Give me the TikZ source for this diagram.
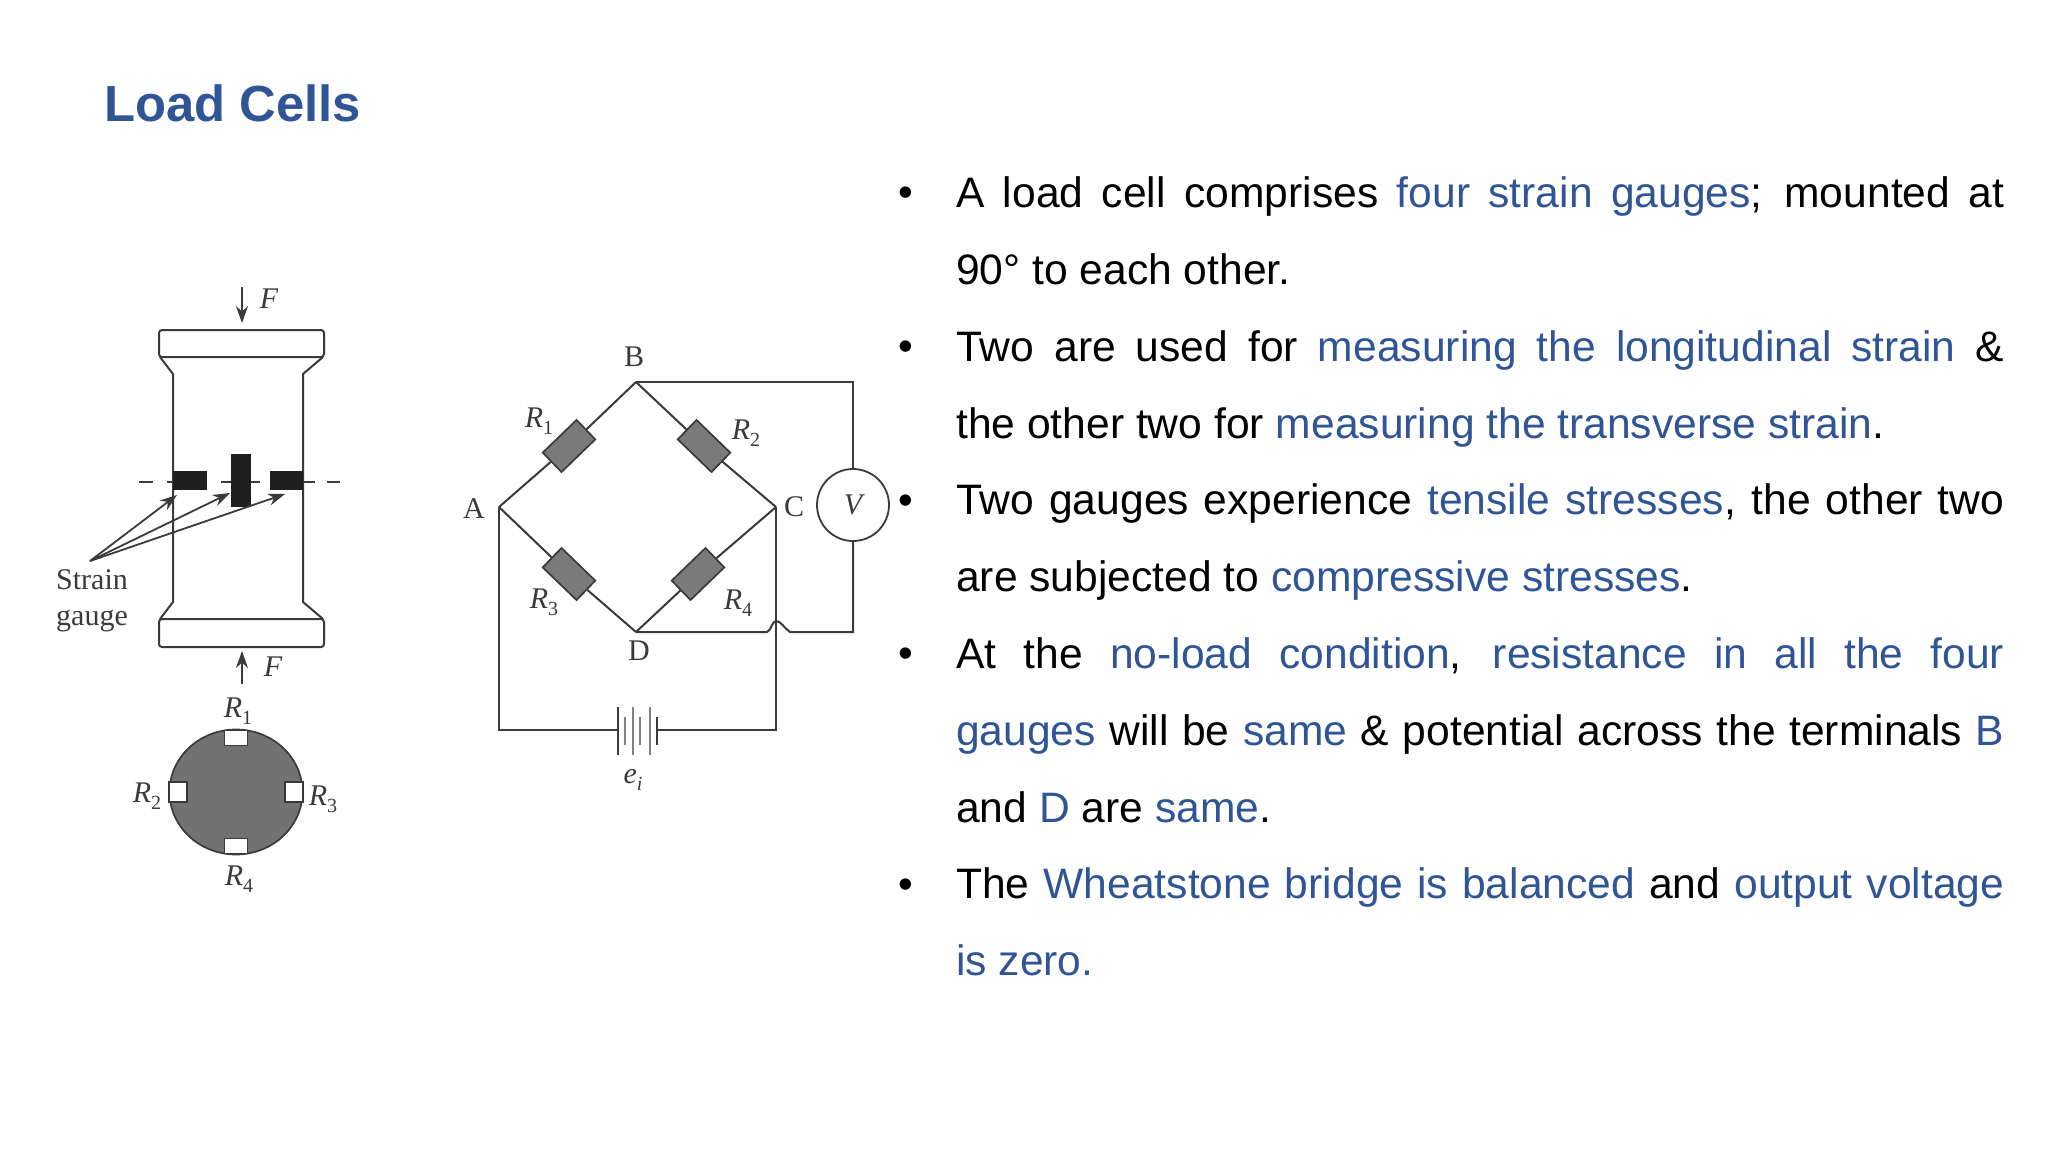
\documentclass[tikz,border=0pt]{standalone}
\usepackage{fontspec}
\setmainfont{Liberation Sans}
\newfontfamily\serf{Liberation Serif}
\usetikzlibrary{arrows.meta,shapes.geometric}
\definecolor{slideblue}{HTML}{2F5597}
\definecolor{ink}{HTML}{3A3A3A}
\definecolor{resgray}{HTML}{7A7A7A}
\definecolor{discgray}{HTML}{727272}
\newcommand{\Rs}[1]{{\serf\itshape R}\raisebox{-7pt}{\fontsize{20pt}{20pt}\selectfont\serf #1}}
\newcommand{\bl}[1]{\textcolor{slideblue}{#1}}
\newcommand{\jline}[1]{\makebox[1048pt][s]{#1}}
\tikzset{
  wire/.style={draw=ink,line width=2pt},
  thin wire/.style={draw=ink,line width=1.8pt},
  body/.style={draw=ink,line width=2pt},
  resistor/.style={draw=ink,line width=1.7pt,fill=resgray,minimum width=47pt,minimum height=27pt,inner sep=0pt},
  gaugeblock/.style={fill=black!88,draw=none,inner sep=0pt},
  sq/.style={draw=ink,line width=1.7pt,fill=white,inner sep=0pt},
  lab/.style={text=ink,inner sep=0pt,font=\fontsize{30pt}{32pt}\selectfont\serf},
  slide/.style={anchor=base west,inner sep=0pt,font=\fontsize{42.6pt}{50pt}\selectfont},
  bulletmark/.style={anchor=base,inner sep=0pt,font=\fontsize{42pt}{50pt}\selectfont},
  tip/.style={-{Stealth[length=17pt,width=12pt]},draw=ink,line width=1.8pt}
}
\begin{document}
\begin{tikzpicture}[x=1pt,y=-1pt]
\useasboundingbox[fill=white] (0,0) rectangle (2048,1152);

% Title
\node[anchor=base west,inner sep=0pt,text=slideblue,font=\fontsize{50.8pt}{56pt}\selectfont\bfseries] (title) at (104,121) {Load Cells};

% Column
\draw[body,rounded corners=3pt] (159,330) rectangle (324,357);
\draw[body,rounded corners=3pt] (159,619) rectangle (324,647);
\draw[body] (160,357) -- (173,374) -- (173,602) -- (160,619);
\draw[body] (323,357) -- (303,374) -- (303,602) -- (323,619);

% Centre line
\draw[thin wire] (139,482) -- (153,482) (167,482) -- (173,482) (221,482) -- (231,482) (251,482) -- (260,482) (303,482) -- (315,482) (327,482) -- (340,482);

% Gauges
\node[gaugeblock,minimum width=34pt,minimum height=19pt] (g1) at (190,480.5) {};
\node[gaugeblock,minimum width=20pt,minimum height=53pt] (g2) at (241,480.5) {};
\node[gaugeblock,minimum width=33pt,minimum height=19pt] (g3) at (286.5,480.5) {};

% Strain gauge label and arrows
\coordinate (sg) at (90,561);
\coordinate (t1) at (177,495);
\coordinate (t2) at (230,493);
\coordinate (t3) at (285,494);
\draw[tip] (sg) -- (t1);
\draw[tip] (sg) -- (t2);
\draw[tip] (sg) -- (t3);
\node[lab] (strain) at (92,580) {Strain};
\node[lab] (gauge) at (92,621) {gauge};

% Force arrows
\coordinate (f1s) at (242,287);
\coordinate (f1e) at (242,323);
\coordinate (f2s) at (242,684);
\coordinate (f2e) at (242,651);
\draw[tip] (f1s) -- (f1e);
\draw[tip] (f2s) -- (f2e);
\node[lab,font=\fontsize{30pt}{32pt}\selectfont\serf\itshape] (F1) at (269,299) {F};
\node[lab,font=\fontsize{30pt}{32pt}\selectfont\serf\itshape] (F2) at (273,667) {F};

% Cross-section
\node[ellipse,draw=ink,line width=1.7pt,fill=discgray,minimum width=133pt,minimum height=125pt,inner sep=0pt] (disc) at (236,792) {};
\node[sq,minimum width=23pt,minimum height=15pt] (s1) at (236,738) {};
\node[sq,minimum width=18pt,minimum height=20pt] (s2) at (178,792) {};
\node[sq,minimum width=18pt,minimum height=20pt] (s3) at (294,792) {};
\node[sq,minimum width=23pt,minimum height=15pt] (s4) at (236,846) {};
\node[lab] (lr1) at (238,711) {\Rs{1}};
\node[lab] (lr2) at (147,796) {\Rs{2}};
\node[lab] (lr3) at (323,799) {\Rs{3}};
\node[lab] (lr4) at (239,879) {\Rs{4}};

% Bridge junctions
\coordinate (A) at (499,507);
\coordinate (B) at (636,382);
\coordinate (C) at (776,507);
\coordinate (D) at (636,632);

\node[resistor,rotate=44] (r1) at (569,446) {};
\node[resistor,rotate=-44] (r2) at (704,446) {};
\node[resistor,rotate=-44] (r3) at (569,574) {};
\node[resistor,rotate=44] (r4) at (698,574) {};
\draw[wire] (A) -- (r1) (r1) -- (B) (B) -- (r2) (r2) -- (C);
\draw[wire] (A) -- (r3) (r3) -- (D) (D) -- (r4) (r4) -- (C);

\node[circle,draw=ink,line width=1.8pt,fill=white,minimum size=72pt,inner sep=0pt,text=ink,font=\fontsize{30pt}{32pt}\selectfont\serf\itshape] (V) at (853,505) {V};
\draw[wire] (B) -| (V);
\coordinate (hs) at (767,632);
\coordinate (ht) at (776,621);
\coordinate (he) at (790,632);
\draw[wire] (D) -- (hs) .. controls (771,631) and (772,621) .. (ht) .. controls (781,621) and (784,628) .. (he) -| (V);

\coordinate (batL) at (618,730);
\coordinate (batR) at (657,730);
\draw[wire] (A) |- (batL);
\draw[wire] (C) |- (batR);
% Battery
\draw[wire] (618,707) -- (618,755);
\draw[draw=gray,line width=2pt] (625,717) -- (625,745) (633,707) -- (633,755) (640,717) -- (640,745) (650,707) -- (650,755);
\draw[wire] (657,717) -- (657,745);

\node[lab] (nA) at (474,509) {A};
\node[lab] (nB) at (634,357) {B};
\node[lab] (nC) at (794,507) {C};
\node[lab] (nD) at (639,651) {D};
\node[lab] (lb1) at (539,421) {\Rs{1}};
\node[lab] (lb2) at (746,433) {\Rs{2}};
\node[lab] (lb3) at (544,602) {\Rs{3}};
\node[lab] (lb4) at (738,603) {\Rs{4}};
\node[lab] (ei) at (633,780) {{\itshape e}\raisebox{-7pt}{\fontsize{20pt}{20pt}\selectfont\itshape i}};

% Bullets
\node[bulletmark] (b1) at (906,206) {•};
\node[bulletmark] (b2) at (906,360) {•};
\node[bulletmark] (b3) at (906,514) {•};
\node[bulletmark] (b4) at (906,667) {•};
\node[bulletmark] (b5) at (906,898) {•};

% Text lines
\node[slide] (l1) at (956,207) {\jline{A load cell comprises \bl{four strain gauges}; mounted at}};
\node[slide] (l2) at (956,284) {90° to each other.};
\node[slide] (l3) at (956,361) {\jline{Two are used for \bl{measuring the longitudinal strain} \&}};
\node[slide] (l4) at (956,438) {the other two for \bl{measuring the transverse strain}.};
\node[slide] (l5) at (956,514) {\jline{Two gauges experience \bl{tensile stresses}, the other two}};
\node[slide] (l6) at (956,591) {are subjected to \bl{compressive stresses}.};
\node[slide] (l7) at (956,668) {\jline{At the \bl{no-load condition}, \bl{resistance in all the four}}};
\node[slide] (l8) at (956,745) {\jline{\bl{gauges} will be \bl{same} \& potential across the terminals \bl{B}}};
\node[slide] (l9) at (956,822) {and \bl{D} are \bl{same}.};
\node[slide] (l10) at (956,898) {\jline{The \bl{Wheatstone bridge is balanced} and \bl{output voltage}}};
\node[slide] (l11) at (956,975) {\bl{is zero.}};
\end{tikzpicture}
\end{document}
